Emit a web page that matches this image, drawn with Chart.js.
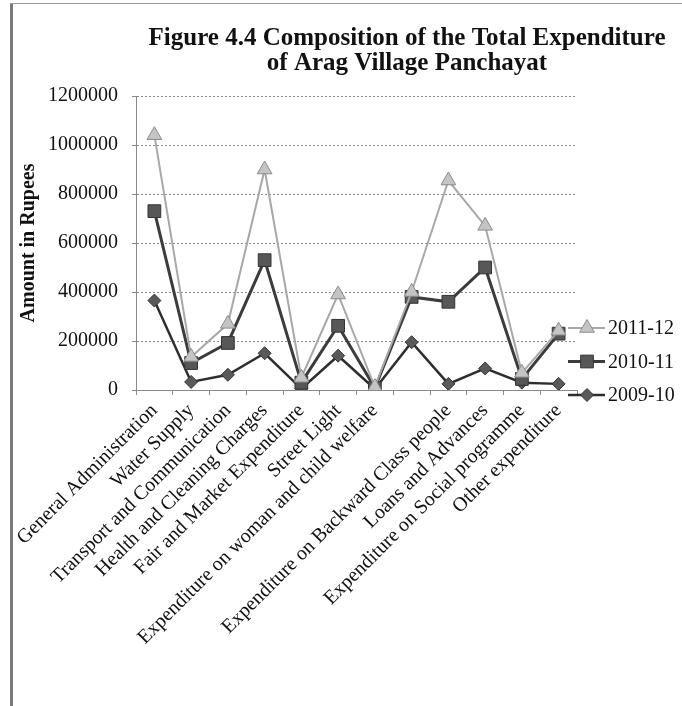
<!DOCTYPE html>
<html>
<head>
<meta charset="utf-8">
<title>Composition of the Total Expenditure</title>
<script src="https://cdn.jsdelivr.net/npm/chart.js@4/dist/chart.umd.min.js"></script>
<style>
  html, body { margin: 0; padding: 0; background: #fff; }
  #page { position: relative; width: 682px; height: 706px; overflow: hidden; }
  #wrap { position: absolute; left: 0; top: 0; width: 682px; height: 706px; }
  #frameLeft { position: absolute; left: 10px; top: 3px; width: 3px; height: 703px; background: #7a7a7a; }
  #frameTop { position: absolute; left: 10px; top: 3px; width: 672px; height: 1px; background: #9a9a9a; }
</style>
</head>
<body>
<div id="page">
  <div id="wrap"><canvas id="expChart"></canvas></div>
  <div id="frameLeft"></div>
  <div id="frameTop"></div>
</div>
<script>
// Expenditure heads (8th head has no label on the axis)
const categories = [
  'General Administration',
  'Water Supply',
  'Transport and Communication',
  'Health and Cleaning Charges',
  'Fair and Market Expenditure',
  'Street Light',
  'Expenditure on woman and child welfare',
  '',
  'Expenditure on Backward Class people',
  'Loans and Advances',
  'Expenditure on Social programme',
  'Other expenditure'
];
const years = ['2011-12', '2010-11', '2009-10'];

// amounts in rupees
const exp2011_12 = [1040000, 135000, 270000, 900000, 50000, 390000, 12000, 400000, 855000, 670000, 70000, 242000];
const exp2010_11 = [730000, 110000, 192000, 530000, 30000, 262000, 8000, 380000, 360000, 500000, 45000, 230000];
const exp2009_10 = [365000, 33000, 62000, 150000, 5000, 140000, 4000, 195000, 25000, 88000, 30000, 25000];

const yTicks = [0, 200000, 400000, 600000, 800000, 1000000, 1200000];

const titleLines = ['Figure 4.4 Composition of the Total Expenditure', 'of Arag Village Panchayat'];
const serif = '"Liberation Serif", "Times New Roman", serif';

// title and the line+marker legend on the right
const decor = {
  id: 'decor',
  afterDraw(chart) {
    const ctx = chart.ctx;
    const area = chart.chartArea;
    ctx.save();
    ctx.fillStyle = '#111';
    ctx.font = 'bold 25px ' + serif;
    ctx.textAlign = 'center';
    ctx.textBaseline = 'middle';
    titleLines.forEach((t, i) => ctx.fillText(t, 407, 39 + i * 25));

    ctx.font = '20px ' + serif;
    ctx.textAlign = 'left';
    chart.data.datasets.forEach((ds, i) => {
      const y = area.bottom - 62 + i * 33.5;
      const x0 = area.right - 9;
      ctx.strokeStyle = ds.borderColor;
      ctx.lineWidth = ds.borderWidth;
      ctx.beginPath();
      ctx.moveTo(x0, y);
      ctx.lineTo(x0 + 37, y);
      ctx.stroke();
      ctx.fillStyle = ds.pointBackgroundColor;
      ctx.strokeStyle = ds.pointBorderColor;
      ctx.lineWidth = 1;
      Chart.helpers.drawPoint(ctx, { pointStyle: ds.pointStyle, radius: ds.pointRadius, rotation: 0, borderWidth: 1 }, x0 + 19, y);
      ctx.fillStyle = '#111';
      ctx.fillText(ds.label, x0 + 40, y + 1);
    });
    ctx.restore();
  }
};

new Chart(document.getElementById('expChart'), {
  type: 'line',
  data: {
    labels: categories,
    datasets: [
      {
        label: years[0],
        data: exp2011_12,
        borderColor: '#a8a8a8',
        borderWidth: 2,
        pointStyle: 'triangle',
        pointRadius: 8.5,
        pointBackgroundColor: '#c4c4c4',
        pointBorderColor: '#8c8c8c',
        pointBorderWidth: 1
      },
      {
        label: years[1],
        data: exp2010_11,
        borderColor: '#3c3c3c',
        borderWidth: 3,
        pointStyle: 'rect',
        pointRadius: 9,
        pointBackgroundColor: '#575757',
        pointBorderColor: '#333',
        pointBorderWidth: 1
      },
      {
        label: years[2],
        data: exp2009_10,
        borderColor: '#2e2e2e',
        borderWidth: 2.5,
        pointStyle: 'rectRot',
        pointRadius: 6.5,
        pointBackgroundColor: '#5a5a5a',
        pointBorderColor: '#333',
        pointBorderWidth: 1
      }
    ]
  },
  options: {
    responsive: true,
    maintainAspectRatio: false,
    animation: false,
    layout: { padding: { left: 12, right: 105, top: 96, bottom: 0 } },
    plugins: {
      legend: { display: false },
      title: { display: false },
      tooltip: { enabled: false }
    },
    scales: {
      x: {
        offset: true,
        grid: { offset: true, drawOnChartArea: false, drawTicks: true, tickLength: 5, color: '#8a8a8a' },
        border: { color: '#8a8a8a' },
        ticks: {
          autoSkip: false,
          minRotation: 45,
          maxRotation: 45,
          padding: 4,
          color: '#111',
          font: { family: serif, size: 20 }
        },
        afterFit(scale) { scale.height = 316; }
      },
      y: {
        min: 0,
        max: 1200000,
        afterBuildTicks(scale) { scale.ticks = yTicks.map(v => ({ value: v })); },
        grid: { color: '#8a8a8a', lineWidth: 1, tickLength: 4 },
        border: { color: '#8a8a8a', dash: [2, 2] },
        ticks: {
          padding: 14,
          color: '#111',
          font: { family: serif, size: 20 },
          callback: v => String(v)
        },
        title: {
          display: true,
          text: 'Amount in Rupees',
          color: '#111',
          font: { family: serif, size: 20, weight: 'bold' },
          padding: { top: 5, bottom: 0 }
        },
        afterFit(scale) { scale.width = 124; }
      }
    }
  },
  plugins: [decor]
});
</script>
</body>
</html>
